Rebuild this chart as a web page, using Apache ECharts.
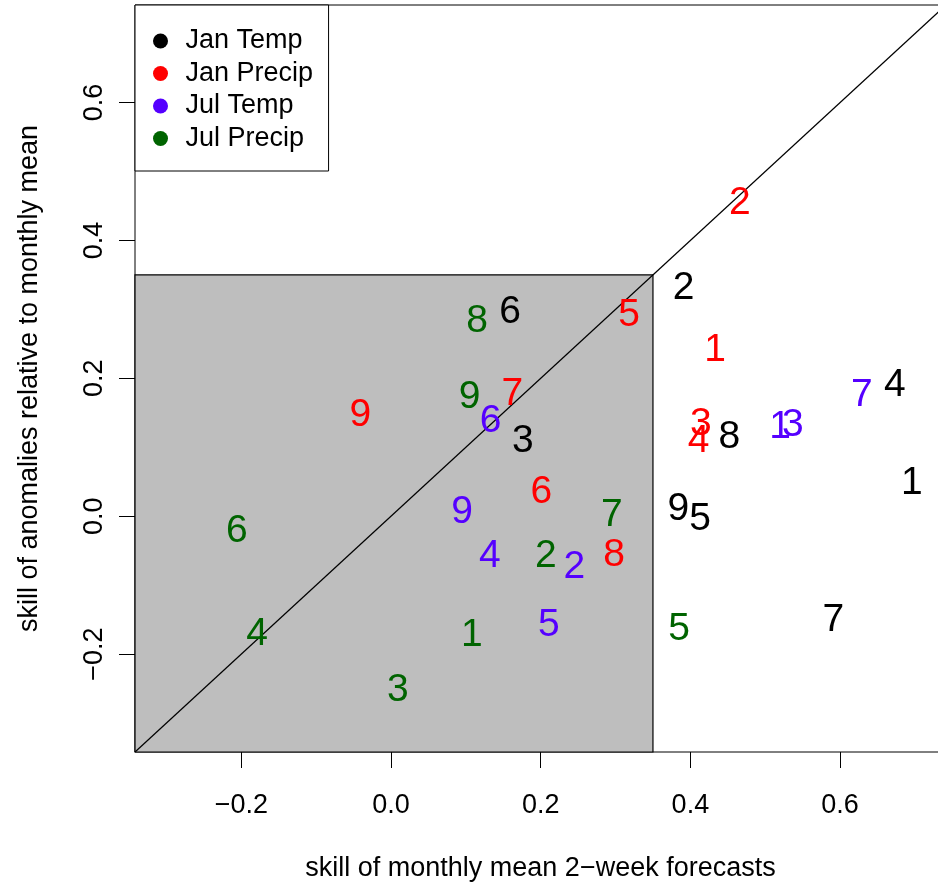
<!DOCTYPE html>
<html>
<head>
<meta charset="utf-8">
<script src="https://cdn.jsdelivr.net/npm/echarts@6/dist/echarts.min.js"></script>
<style>
  html, body { margin: 0; padding: 0; background: #fff; }
  #chart { width: 938px; height: 885px; }
</style>
</head>
<body>
<div id="chart"></div>
<script>
// ---- data ----
const seriesNames = ['Jan Temp', 'Jan Precip', 'Jul Temp', 'Jul Precip'];
const seriesColors = ['#000000', '#FF0000', '#5500FF', '#006400'];

const janTempLabels = ['1','2','3','4','5','6','7','8','9'];
const janTemp = [[0.696,0.050],[0.391,0.334],[0.176,0.111],[0.673,0.193],[0.413,-0.001],[0.159,0.299],[0.591,-0.148],[0.452,0.118],[0.384,0.013]];

const janPrecipLabels = ['1','2','3','4','5','6','7','8','9'];
const janPrecip = [[0.433,0.243],[0.466,0.457],[0.414,0.137],[0.411,0.111],[0.318,0.295],[0.201,0.038],[0.162,0.180],[0.298,-0.053],[-0.041,0.150]];

const julTempLabels = ['1','2','3','4','5','6','7','9'];
const julTemp = [[0.520,0.132],[0.245,-0.071],[0.537,0.135],[0.132,-0.055],[0.211,-0.155],[0.133,0.140],[0.629,0.178],[0.095,0.009]];

const julPrecipLabels = ['1','2','3','4','5','6','7','8','9'];
const julPrecip = [[0.108,-0.170],[0.207,-0.055],[0.009,-0.250],[-0.179,-0.168],[0.385,-0.161],[-0.206,-0.019],[0.295,0.005],[0.115,0.286],[0.105,0.176]];

const axisMin = -0.342, axisMax = 0.7415;
const tickValues = [-0.2, 0, 0.2, 0.4, 0.6];
const boxCorner = 0.35;

const xTitle = 'skill of monthly mean 2\u2212week forecasts';
const yTitle = 'skill of anomalies relative to monthly mean';

// ---- chart ----
const FONT = "'Liberation Sans', Arial, Helvetica, sans-serif";
const chart = echarts.init(document.getElementById('chart'), null, { renderer: 'canvas' });

const allData = [janTemp, janPrecip, julTemp, julPrecip];
const allLabels = [janTempLabels, janPrecipLabels, julTempLabels, julPrecipLabels];

function fmtTick(v) {
  return v.toFixed(1).replace('-', '\u2212');
}

const scatterSeries = seriesNames.map((name, k) => ({
  name: name,
  type: 'scatter',
  z: 5,
  symbolSize: 0,
  itemStyle: { color: seriesColors[k], opacity: 1 },
  data: allData[k].map((p, i) => [p[0], p[1], allLabels[k][i]]),
  label: {
    show: true,
    position: 'inside',
    offset: [0, 2],
    formatter: p => p.value[2],
    color: seriesColors[k],
    opacity: 1,
    fontSize: 39,
    fontFamily: FONT
  },
  emphasis: { disabled: true },
  silent: true
}));

const axisCommon = {
  type: 'value',
  min: axisMin, max: axisMax,
  splitLine: { show: false },
  axisLine: { show: false, onZero: false },
  axisTick: { show: true, inside: false, length: 16, customValues: tickValues, lineStyle: { color: '#000', width: 1 } },
  nameLocation: 'middle',
  nameTextStyle: { fontSize: 27, fontFamily: FONT, color: '#000' }
};

const option = {
  animation: false,
  backgroundColor: '#ffffff',
  grid: {
    left: 135, top: 5, width: 811, height: 747,
    outerBoundsMode: 'none',
    containLabel: false,
    show: true, borderColor: '#000', borderWidth: 1, backgroundColor: '#ffffff'
  },
  legend: {
    orient: 'vertical',
    left: 135, top: 5,
    data: seriesNames.map(n => ({ name: n, icon: 'circle', itemStyle: { opacity: 1 } })),
    itemWidth: 40, itemHeight: 15,
    itemGap: 5.5,
    padding: [22.5, 15.5, 19, 18],
    backgroundColor: '#ffffff',
    borderColor: '#000', borderWidth: 1, borderRadius: 0,
    selectedMode: false,
    textStyle: { fontSize: 27, fontFamily: FONT, color: '#000', lineHeight: 27 }
  },
  xAxis: Object.assign({}, axisCommon, {
    axisLabel: { customValues: tickValues, formatter: fmtTick, fontSize: 27, fontFamily: FONT, color: '#000', margin: 40 },
    name: xTitle,
    nameGap: 103
  }),
  yAxis: Object.assign({}, axisCommon, {
    axisLabel: { customValues: tickValues, formatter: fmtTick, fontSize: 27, fontFamily: FONT, color: '#000', margin: 27, rotate: 90 },
    name: yTitle,
    nameGap: 92
  }),
  series: [
    {
      type: 'line',
      z: 2,
      silent: true,
      symbol: 'none',
      lineStyle: { color: '#000', width: 1.2 },
      data: [[axisMin, axisMin], [axisMax, axisMax]],
      markArea: {
        silent: true,
        itemStyle: { color: '#BEBEBE', borderColor: '#000', borderWidth: 1.2 },
        data: [[{ coord: [axisMin, axisMin] }, { coord: [boxCorner, boxCorner] }]]
      }
    }
  ].concat(scatterSeries)
};

chart.setOption(option);
</script>
</body>
</html>
